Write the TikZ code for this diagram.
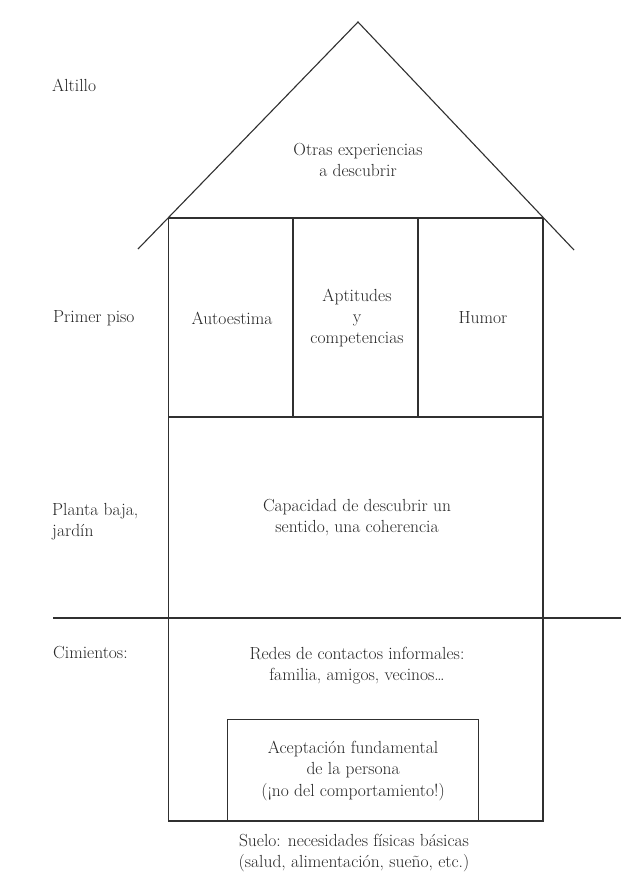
\documentclass[tikz,border=0pt]{standalone}
\usepackage{fontspec}
\definecolor{ink}{HTML}{303030}
\definecolor{txt}{HTML}{262626}
\tikzset{
  wall/.style={draw=ink, line width=1.1pt},
  lbl/.style={text=txt, inner sep=0pt, font=\fontsize{17.5}{21}\selectfont, anchor=west, align=left},
  room/.style={text=txt, inner sep=0pt, font=\fontsize{17.5}{21}\selectfont, align=center},
  innerbox/.style={draw=ink, line width=1.1pt, text=txt, font=\fontsize{17.5}{21.5}\selectfont, align=center,
    minimum width=251pt, minimum height=102pt, inner sep=0pt, anchor=north west}
}
\begin{document}
\begin{tikzpicture}[x=1pt,y=-1pt]
\path[use as bounding box, fill=white] (0,0) rectangle (644,879);
% key points
\coordinate (apex) at (358,22);
\coordinate (roofL) at (138,249);
\coordinate (roofR) at (574,250);
\coordinate (tl) at (168.5,218);
\coordinate (tr) at (543,218);
\coordinate (ml) at (168.5,417);
\coordinate (mr) at (543,417);
\coordinate (bl) at (168.5,821);
\coordinate (br) at (543,821);
\coordinate (d1t) at (293,218);
\coordinate (d1b) at (293,417);
\coordinate (d2t) at (418,218);
\coordinate (d2b) at (418,417);
\coordinate (gl) at (53,618);
\coordinate (gr) at (621,618);
% roof
\draw[wall] (roofL) -- (apex) -- (roofR);
\draw[wall] (tl) -- (tr);
% walls
\draw[wall] (tl) -- (bl) -- (br) -- (tr);
\draw[wall] (ml) -- (mr);
\draw[wall] (d1t) -- (d1b);
\draw[wall] (d2t) -- (d2b);
% ground line
\draw[wall] (gl) -- (gr);
% inner box
\node[innerbox] (acept) at (227,719) {Aceptación fundamental\\de la persona\\(¡no del comportamiento!)};
% left labels
\node[lbl] (altillo) at (52,85) {Altillo};
\node[lbl] (primer) at (53,318) {Primer piso};
\node[lbl] (planta) at (52,522) {Planta baja,\\jardín};
\node[lbl] (cimientos) at (53,653) {Cimientos:};
% room texts
\node[room] (otras) at (358,160) {Otras experiencias\\a descubrir};
\node[room] (auto) at (232,318) {Autoestima};
\node[room] (apti) at (357,318) {Aptitudes\\y\\competencias};
\node[room] (humor) at (483,318) {Humor};
\node[room] (capac) at (357,518) {Capacidad de descubrir un\\sentido, una coherencia};
\node[room] (redes) at (357,666) {Redes de contactos informales:\\familia, amigos, vecinos\dots};
\node[room] (suelo) at (354,853) {Suelo: necesidades físicas básicas\\(salud, alimentación, sueño, etc.)};
\end{tikzpicture}
\end{document}
